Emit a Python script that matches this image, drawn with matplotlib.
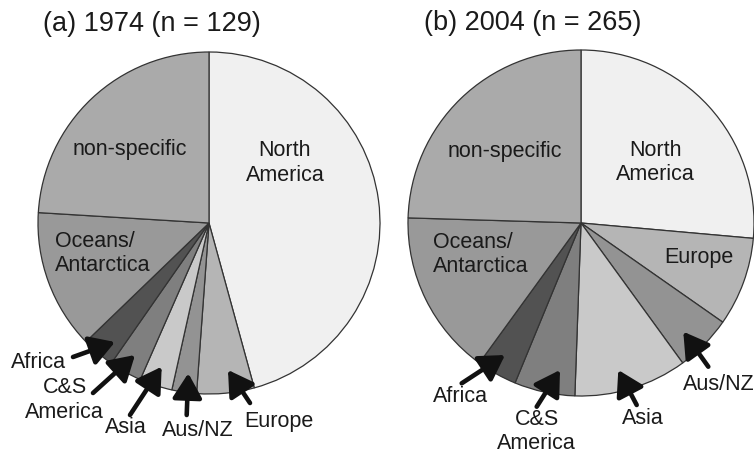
import matplotlib
matplotlib.use("Agg")
import matplotlib.pyplot as plt

plt.rcParams['font.family'] = ['Liberation Sans', 'DejaVu Sans']

categories = ["North America", "Europe", "Aus/NZ", "Asia", "C&S America",
              "Africa", "Oceans/Antarctica", "non-specific"]
counts_1974 = [59, 7, 3, 4, 4, 4, 17, 31]
counts_2004 = [70, 22, 14, 28, 15, 10, 41, 65]
colors = ["#f0f0f0", "#b5b5b5", "#939393", "#c9c9c9", "#7f7f7f",
          "#525252", "#999999", "#aaaaaa"]
titles = ["(a) 1974 (n = 129)", "(b) 2004 (n = 265)"]

W, H = 754, 453
fig = plt.figure(figsize=(W / 100, H / 100), dpi=100)
ax = fig.add_axes([0, 0, 1, 1])
ax.set_xlim(0, W)
ax.set_ylim(0, H)
ax.set_aspect('equal')
ax.axis('off')

def Y(y):
    return H - y

centers = [(209, 223), (581, 223)]
radii = [171, 173]
for vals, c, r in zip([counts_1974, counts_2004], centers, radii):
    ax.pie(vals, colors=colors, startangle=90, counterclock=False,
           center=(c[0], Y(c[1])), radius=r, frame=True,
           wedgeprops=dict(edgecolor="#333333", linewidth=0.9))
ax.set_xlim(0, W)
ax.set_ylim(0, H)
ax.axis('off')

fs = 15.5
tc = '#1a1a1a'
ax.text(151.7, Y(24), titles[0], fontsize=19.5, ha='center', va='center', color=tc)
ax.text(533, Y(23.5), titles[1], fontsize=19.5, ha='center', va='center', color=tc)

# plain labels inside wedges
inner = [
    ("non-specific", 130, 150, 'center'),
    ("North\nAmerica", 285, 163, 'center'),
    ("Oceans/\nAntarctica", 55, 253.5, 'left'),
    ("non-specific", 505.3, 151, 'center'),
    ("North\nAmerica", 655.8, 162.5, 'center'),
    ("Oceans/\nAntarctica", 433.3, 254.5, 'left'),
    ("Europe", 699, 257.5, 'center'),
]
for t, x, y, ha in inner:
    ax.text(x, Y(y), t, fontsize=fs, ha=ha, va='center', linespacing=1.2,
            multialignment='left' if ha == 'left' else 'center', color=tc)

# arrow-labelled wedges: (text, text_xy, tail_xy, tip_xy)
arrows = [
    ("Africa", (38.3, 362), (73, 357), (115, 342)),
    ("C&S\nAmerica", (64.5, 400), (93, 393), (135, 355)),
    ("Asia", (126, 427.5), (130, 415), (161.7, 366.7)),
    ("Aus/NZ", (198, 430), (186.7, 415), (188.3, 373.3)),
    ("Europe", (279, 421), (250, 403), (228, 370)),
    ("Africa", (460.8, 396.7), (461.7, 383.3), (505, 355)),
    ("C&S\nAmerica", (536.7, 431.7), (536.7, 406.7), (560, 370)),
    ("Asia", (642.5, 419), (636.7, 405), (618.3, 370)),
    ("Aus/NZ", (719, 385), (708.3, 366.7), (683.3, 331.7)),
]
for t, txy, tail, tip in arrows:
    ax.text(txy[0], Y(txy[1]), t, fontsize=fs, ha='center', va='center',
            linespacing=1.2, color=tc)
    ax.annotate("", xy=(tip[0], Y(tip[1])), xytext=(tail[0], Y(tail[1])),
                arrowprops=dict(arrowstyle='-|>,head_length=0.75,head_width=0.45',
                                lw=3.3, color='#111111', mutation_scale=20,
                                shrinkA=0, shrinkB=0))

fig.savefig("out.png", dpi=100)
